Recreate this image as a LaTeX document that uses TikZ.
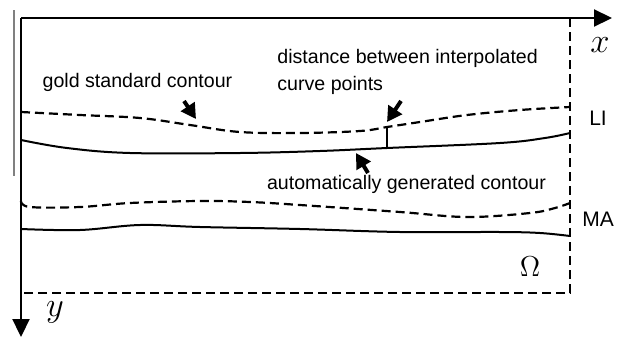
\documentclass[tikz,border=0pt]{standalone}
\usepackage{fontspec}
\setmainfont{Liberation Sans}
\usetikzlibrary{arrows.meta}

\tikzset{
  axis/.style={line width=1.1pt, -{Triangle[length=9pt,width=8.5pt]}},
  border/.style={line width=1.1pt, dash pattern=on 4.5pt off 2.5pt},
  gold/.style={line width=1.1pt, dash pattern=on 4.5pt off 2.5pt},
  auto/.style={line width=1pt},
  pointer/.style={line width=2pt, -{Triangle[length=7.5pt,width=8pt]}},
  lbl/.style={font=\fontsize{9.8}{13.5}\selectfont, inner sep=0pt}
}

\begin{document}
\begin{tikzpicture}[x=0.5pt, y=-0.5pt]
\useasboundingbox (0,0) rectangle (621,338);

\coordinate (o) at (21,18);
\coordinate (xend) at (612,18);
\coordinate (yend) at (21,337);
\coordinate (c) at (570,18);
\coordinate (d) at (570,293);
\coordinate (e) at (21,293);

% left edge line
\draw[gray, line width=0.75pt] (14,10) -- (14,176);

% axes
\draw[axis] (o) -- (xend);
\draw[axis] (o) -- (yend);
\node at (600,45) (xlabel) {\fontsize{18}{20}\selectfont$x$};
\node at (55,312) (ylabel) {\fontsize{18}{20}\selectfont$y$};

% domain border
\draw[border] (c) -- (d) -- (e);

% contours LI
\draw[gold] plot[smooth, tension=0.6] coordinates {(21,112) (80,115) (140,118) (190,125) (240,132) (300,133) (360,131) (387,127) (420,122) (467,115) (520,110) (570,107)};
\draw[auto] plot[smooth, tension=0.6] coordinates {(21,140) (67,148) (130,153) (240,153) (320,151) (387,148) (500,143) (545,138) (570,133)};

% contours MA
\draw[gold] plot[smooth, tension=0.6] coordinates {(21,201) (30,207) (80,207) (130,203) (200,201) (250,202) (300,205) (400,212) (467,217) (530,213) (555,208) (570,203)};
\draw[auto] plot[smooth, tension=0.6] coordinates {(21,229) (80,230) (140,225) (200,227) (300,229) (400,232) (500,232) (540,233) (570,236)};

% distance between contours
\coordinate (p1) at (387,127);
\coordinate (p2) at (387,148);
\draw[line width=0.9pt] (p1) -- (p2);

% labels
\node[lbl] at (137.5,82) (goldlabel) {gold standard contour};
\node[lbl, anchor=west, align=left] at (277,71.5) (distlabel) {distance between interpolated\\curve points};
\node[lbl] at (406.5,184) (autolabel) {automatically generated contour};
\node[lbl, font=\fontsize{10.5}{12}\selectfont] at (598,118) (li) {LI};
\node[lbl, font=\fontsize{10.5}{12}\selectfont] at (598,219) (ma) {MA};
\node at (530,267) (omega) {\fontsize{15}{17}\selectfont$\Omega$};

% pointers
\coordinate (g1) at (184,101);
\coordinate (g2) at (196,119);
\coordinate (d1) at (401,101);
\coordinate (d2) at (387,122);
\coordinate (a1) at (368,173);
\coordinate (a2) at (356,153);
\draw[pointer] (g1) -- (g2);
\draw[pointer] (d1) -- (d2);
\draw[pointer] (a1) -- (a2);
\end{tikzpicture}
\end{document}
